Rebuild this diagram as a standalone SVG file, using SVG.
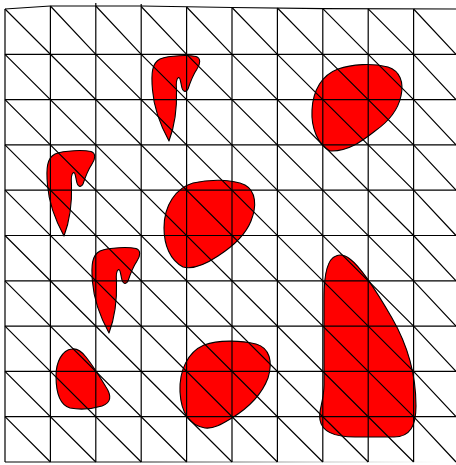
<svg xmlns="http://www.w3.org/2000/svg" width="456" height="465" viewBox="0 0 456 465">
<style>
.blob{fill:#ff0000;stroke:#000;stroke-width:1.1;stroke-linejoin:round}
.grid{fill:none;stroke:#000;stroke-width:1.2;stroke-linecap:butt}
</style>
<defs>
<path id="hook" d="M64,236 C58,225 49,205 47.5,185 C46,168 47,158 55,154 C65,150 84,150 91,151.5 C96,153 95.5,159 92,164 C88,170 85,178 83,184 C81,188 77.5,187 76.5,181 C75.5,176 75,172 73.5,172.5 C71.5,173.5 71,179 71.5,185 C72,200 70,220 64,236 Z"/>
<linearGradient id="fade" gradientUnits="userSpaceOnUse" x1="5" y1="0" x2="440" y2="0">
<stop offset="0" stop-color="#000"/>
<stop offset="0.3" stop-color="#222"/>
<stop offset="0.7" stop-color="#bbb"/>
<stop offset="1" stop-color="#fff"/>
</linearGradient>
</defs>
<rect width="456" height="465" fill="#fff"/>
<g id="blobs">
<path id="blob-top-right" class="blob" d="M330,151 C318,145 311,128 312,110 C313,90 322,75 338,69 C352,64 372,63 388,67 C400,71 404,82 401,96 C398,110 388,122 375,131 C362,141 348,152 330,151 Z"/>
<path id="blob-center" class="blob" d="M183,267 C170,260 164,245 164,228 C164,205 176,188 193,183 C210,179 232,179 245,185 C256,191 257,206 251,221 C245,236 232,247 218,256 C206,264 194,270 183,267 Z"/>
<path id="blob-bottom-center" class="blob" d="M205,428 C188,425 181,410 180,392 C179,370 188,352 204,345 C218,340 240,340 256,344 C270,348 273,362 268,378 C262,394 248,408 232,418 C222,424 214,429 205,428 Z"/>
<path id="blob-bottom-left" class="blob" d="M72,349 C62,350 56,362 56,376 C56,393 60,405 70,408 C80,410 92,409 102,406 C111,403 112,396 106,387 C100,377 94,367 86,357 C82,352 78,348 72,349 Z"/>
<path id="blob-tall" class="blob" d="M336,256 C327,259 324,275 324,298 L324,385 C324,402 318,410 320,420 C322,432 335,437 355,437 L394,437 C410,437 416,426 416,406 C416,372 407,344 392,318 C377,292 362,268 350,259 C345,255 340,254 336,256 Z"/>
<use id="hook-top" href="#hook" class="blob" transform="translate(105,-95)"/>
<use id="hook-left" href="#hook" class="blob"/>
<use id="hook-middle" href="#hook" class="blob" transform="translate(45,97)"/>
</g>
<g id="grid" class="grid">
<path d="M5,9 L50.4,6 L141.2,6 L232,7.5 L322.8,8.7 L456,9"/>
<path stroke="url(#fade)" d="M5,462 L456,462"/>
<path d="M5,9 V462 M50.4,6 V462 M95.8,3 V462 M141.2,4 V462 M186.6,7 V462 M232,7.5 V462 M277.4,8 V462 M322.8,8.7 V462 M368.2,8.8 V462 M413.6,9 V462"/>
<path d="M5,54.3 H456 M5,99.6 H456 M5,144.9 H456 M5,190.2 H456 M5,235.5 H456 M5,280.8 H456 M5,326.1 H456 M5,371.4 H456 M5,416.7 H456"/>
<path d="M5,9 L413.6,416.7 L456,462
M50.4,6 L95.8,54.3 L413.6,371.4 L456,416.7
M95.8,6 L141.2,54.3 L413.6,326.1 L456,371.4
M141.2,6.5 L186.6,54.3 L413.6,280.8 L456,326.1
M186.6,7 L232,54.3 L413.6,235.5 L456,280.8
M232,7.5 L277.4,54.3 L413.6,190.2 L456,235.5
M277.4,8 L322.8,54.3 L413.6,144.9 L456,190.2
M322.8,8.7 L368.2,54.3 L413.6,99.6 L456,144.9
M368.2,8.8 L413.6,54.3 L456,99.6
M413.6,9 L456,54.3
M5,54.3 L413.6,462
M5,99.6 L368.2,462
M5,144.9 L322.8,462
M5,190.2 L277.4,462
M5,235.5 L232,462
M5,280.8 L186.6,462
M5,326.1 L141.2,462
M5,371.4 L95.8,462
M5,416.7 L50.4,462"/>
</g>
</svg>
